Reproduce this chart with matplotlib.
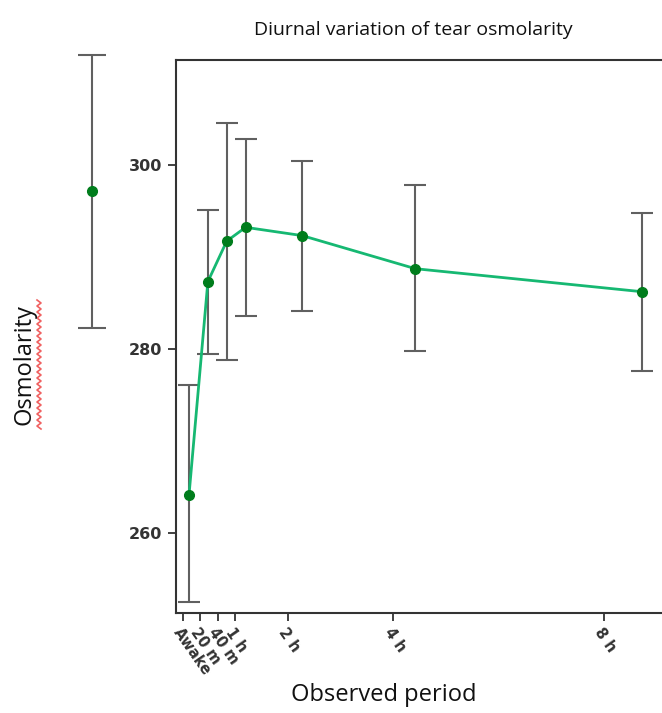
import matplotlib
matplotlib.use("Agg")
import matplotlib.pyplot as plt
import numpy as np

# observation times in hours after waking
periods = ["Awake", "20 m", "40 m", "1 h", "2 h", "4 h", "8 h"]
hours = [0, 1/3, 2/3, 1, 2, 4, 8]
osm_mean = [264.1, 287.3, 291.7, 293.2, 292.3, 288.7, 286.2]
osm_low = [252.5, 279.4, 278.8, 283.6, 284.1, 279.7, 277.6]
osm_high = [276.0, 295.1, 304.5, 302.8, 300.4, 297.8, 294.8]

# stray point drawn left of the axes in the source picture
stray_hour = [-1.71]
stray_mean = [297.1]
stray_low = [282.3]
stray_high = [311.9]

W, H = 662, 713
fig = plt.figure(figsize=(W / 100, H / 100), dpi=100)

left, right, top, bottom = 176, 700, 60, 613
ax = fig.add_axes([left / W, 1 - bottom / H, (right - left) / W, (bottom - top) / H])
ax.set_ylim(251.25, 311.4)
ax.set_xlim(-0.23, 9.03)

err = [np.subtract(osm_mean, osm_low), np.subtract(osm_high, osm_mean)]
ax.errorbar(hours, osm_mean, yerr=err, fmt="none", ecolor="#606060",
            elinewidth=1.5, capsize=8, capthick=1.5, zorder=2)
ax.plot(hours, osm_mean, color="#16b872", lw=2, zorder=3)
ax.plot(hours, osm_mean, "o", color="#007d1c", ms=7, zorder=4)

s_err = [np.subtract(stray_mean, stray_low), np.subtract(stray_high, stray_mean)]
ax.errorbar(stray_hour, stray_mean, yerr=s_err, fmt="o", color="#007d1c", ms=7,
            ecolor="#606060", elinewidth=1.5, capsize=10, capthick=1.5,
            clip_on=False, zorder=4)

for s in ["left", "top", "bottom"]:
    ax.spines[s].set_color("#333333")
    ax.spines[s].set_linewidth(1.5)
ax.spines["right"].set_visible(False)

ax.set_yticks([260, 280, 300])
ax.tick_params(axis="y", length=6, width=1.3, color="#333333", pad=4,
               labelsize=11.5, labelcolor="#333333")
for lbl in ax.get_yticklabels():
    lbl.set_fontweight("bold")
ax.set_xticks([])

# tick axis (its scale differs slightly from the data layer in the source)
axt = ax.twiny()
axt.set_xlim(-0.125, 9.82)
axt.xaxis.set_ticks_position("bottom")
axt.set_xticks(hours)
axt.set_xticklabels(periods, rotation=-55, ha="left", va="top",
                    rotation_mode="anchor", fontsize=10.5, fontweight="bold",
                    color="#333333")
axt.tick_params(axis="x", length=6, width=1.3, color="#333333", pad=3)
for s in axt.spines.values():
    s.set_visible(False)

fig.text(413 / W, 1 - 30 / H, "Diurnal variation of tear osmolarity",
         ha="center", va="center", fontsize=14, color="#111111",
         family="Open Sans")
fig.text(384 / W, 1 - 695 / H, "Observed period", ha="center", va="center",
         fontsize=17, color="#111111", family="Open Sans")
fig.text(25 / W, 1 - 365 / H, "Osmolarity", ha="center", va="center",
         rotation=90, fontsize=17, color="#111111", family="Open Sans")

# red spell-check squiggle beside the y label
yy = np.arange(300, 431, 3)
xx = 39 + np.where(np.arange(len(yy)) % 2 == 0, -2, 2)
fig.add_artist(plt.Line2D(xx / W, 1 - yy / H, color="#f06060", lw=1.2,
                          transform=fig.transFigure))

fig.savefig("out.png", dpi=100)
